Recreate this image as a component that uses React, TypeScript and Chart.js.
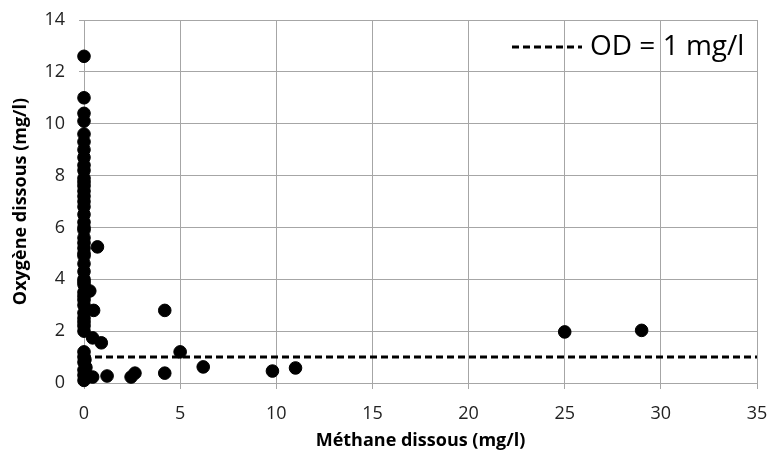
import React, { useEffect, useRef } from "react";
import { Chart, registerables } from "chart.js";

Chart.register(...registerables);

// Méthane dissous (mg/l) values
const methane: number[] = [
  0, 0, 0, 0, 0, 0, 0, 0, 0, 0, 0, 0, 0, 0, 0, 0, 0, 0, 0, 0,
  0, 0, 0, 0, 0, 0, 0, 0, 0, 0, 0, 0, 0, 0, 0, 0, 0, 0, 0, 0,
  0, 0, 0, 0, 0, 0,
  0.1, 0.15, 0.2, 0.05,
  0.7, 0.3, 0.5, 0.45, 0.9, 4.2, 5.0, 6.2, 0.45, 1.2, 2.45, 2.65, 4.2, 9.8, 11.0, 25.0, 29.0,
];
// Oxygène dissous (mg/l) values
const oxygen: number[] = [
  12.6, 11.0, 10.4, 10.1, 9.6, 9.0, 8.7, 8.2, 7.9, 7.6, 7.4, 7.2, 7.0, 6.8, 6.5, 6.2, 5.9, 5.6, 5.4, 5.2,
  4.9, 4.6, 4.3, 4.0, 3.8, 3.5, 3.2, 3.0, 2.7, 2.5, 2.2, 2.0, 1.2, 1.0, 0.8, 0.5, 0.3, 0.1, 6.0, 3.9,
  9.3, 8.4, 7.75, 5.0, 3.35, 2.35,
  0.6, 0.3, 0.25, 0.9,
  5.25, 3.55, 2.8, 1.74, 1.55, 2.8, 1.2, 0.62, 0.23, 0.27, 0.23, 0.38, 0.38, 0.46, 0.58, 1.97, 2.03,
];
// Reference line OD = 1 mg/l
const refX: number[] = [0, 35];
const refY: number[] = [1, 1];
const legendLabel = "OD = 1 mg/l";
const xTitle = "Méthane dissous (mg/l)";
const yTitle = "Oxygène dissous (mg/l)";

export default function App() {
  const ref = useRef<HTMLCanvasElement | null>(null);
  useEffect(() => {
    if (!ref.current) return;
    const legendPlugin = {
      id: "odLegend",
      afterDraw(chart: any) {
        const ctx = chart.ctx;
        ctx.save();
        ctx.strokeStyle = "#000";
        ctx.lineWidth = 3;
        ctx.setLineDash([7, 4]);
        ctx.beginPath();
        ctx.moveTo(512, 47);
        ctx.lineTo(582, 47);
        ctx.stroke();
        ctx.setLineDash([]);
        ctx.fillStyle = "#000";
        ctx.font = "28px 'Open Sans'";
        ctx.textAlign = "left";
        ctx.textBaseline = "middle";
        ctx.fillText(legendLabel, 590, 47);
        ctx.restore();
      },
    };
    const chart = new Chart(ref.current, {
      type: "scatter",
      data: {
        datasets: [
          {
            type: "line",
            label: legendLabel,
            data: refX.map((x, i) => ({ x, y: refY[i] })),
            borderColor: "#000",
            borderWidth: 3,
            borderDash: [7, 4],
            pointRadius: 0,
            fill: false,
            order: 2,
          } as any,
          {
            label: "data",
            data: methane.map((x, i) => ({ x, y: oxygen[i] })),
            backgroundColor: "#000",
            borderColor: "#000",
            pointRadius: 6.3,
            pointHoverRadius: 6.3,
            clip: false,
            order: 1,
          } as any,
        ],
      },
      options: {
        responsive: false,
        animation: false,
        layout: { autoPadding: false, padding: { top: 20, right: 15, left: 0, bottom: 0 } },
        plugins: { legend: { display: false }, tooltip: { enabled: false } },
        scales: {
          x: {
            type: "linear",
            min: 0,
            max: 35,
            afterFit(s: any) { s.height = 77; s.paddingLeft = 0; s.paddingRight = 0; },
            ticks: { stepSize: 5, color: "#222", font: { family: "'Open Sans'", size: 18 }, padding: 14 },
            grid: { color: "#a6a6a6", lineWidth: 1, tickLength: 6 },
            border: { color: "#a6a6a6" },
            title: { display: true, text: xTitle, color: "#000", font: { family: "'Open Sans'", size: 18, weight: "bold" }, padding: { top: 0, bottom: 8 } },
          },
          y: {
            type: "linear",
            min: 0,
            max: 14,
            afterFit(s: any) { s.width = 84; s.paddingTop = 0; s.paddingBottom = 0; },
            ticks: { stepSize: 2, color: "#222", font: { family: "'Open Sans'", size: 18 }, padding: 14 },
            grid: { color: "#a6a6a6", lineWidth: 1, tickLength: 5 },
            border: { color: "#a6a6a6" },
            title: { display: true, text: yTitle, color: "#000", font: { family: "'Open Sans'", size: 18, weight: "bold" }, padding: { top: 10, bottom: 0 } },
          },
        },
      },
      plugins: [legendPlugin],
    });
    return () => chart.destroy();
  }, []);
  return (
    <div style={{ position: "fixed", left: 0, top: 0, width: 772, height: 460, background: "#fff" }}>
      <canvas ref={ref} width={772} height={460} style={{ width: 772, height: 460 }} />
    </div>
  );
}
